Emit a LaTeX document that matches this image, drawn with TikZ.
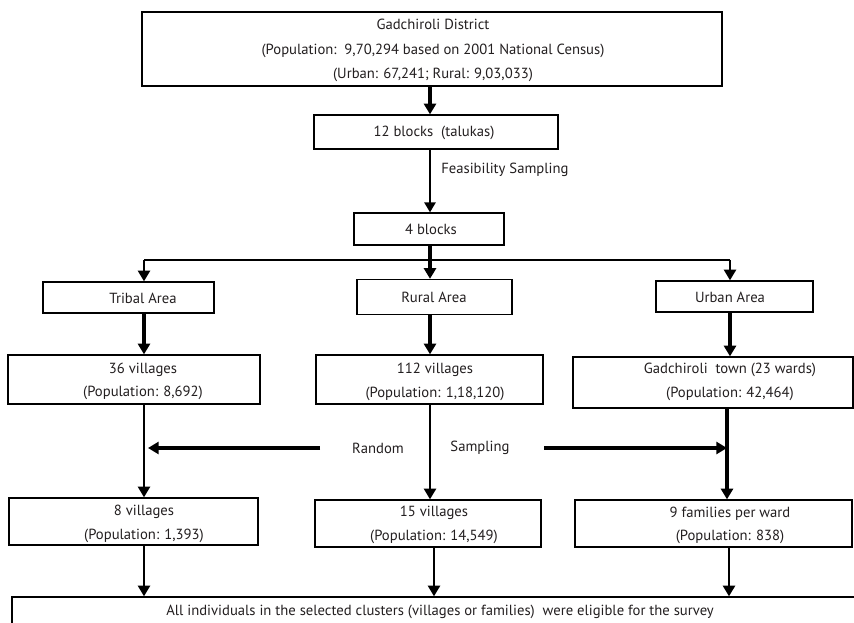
\documentclass[tikz,border=0pt]{standalone}
\usepackage{fontspec}
\setmainfont{PT Sans}
\usetikzlibrary{arrows.meta}
\definecolor{ink}{HTML}{231F20}
\tikzset{
  box/.style={draw=black, line width=1pt, rectangle, inner sep=0pt, fill=white},
  txt/.style={align=center, inner sep=0pt, text=ink, font=\fontsize{11}{17.5}\selectfont},
  arrthick/.style={line width=2.3pt, -{Triangle[width=9pt,length=8pt]}},
  arrmid/.style={line width=1.8pt, -{Triangle[width=9pt,length=8pt]}},
  arrthin/.style={line width=1.4pt, -{Triangle[width=8.5pt,length=7.5pt]}},
  thinline/.style={line width=1.2pt},
}
\begin{document}
\begin{tikzpicture}[x=0.75pt,y=-0.75pt]
\useasboundingbox (0,0) rectangle (854,623);
\clip (0,0) rectangle (854,623);
\fill[white] (0,0) rectangle (854,623);

% column coordinates
\coordinate (cL) at (144,0);
\coordinate (cM) at (430,0);
\coordinate (cR) at (730,0);

% boxes
\node[box, minimum width=580*0.75pt, minimum height=74*0.75pt] (top) at (432,49) {};
\node[txt, font=\fontsize{11}{18.4}\selectfont] (toptxt) at (433,50.5) {Gadchiroli District\\(Population:\ \ 9,70,294 based on 2001 National Census)\\(Urban: 67,241; Rural: 9,03,033)};

\node[box, minimum width=244*0.75pt, minimum height=34*0.75pt] (b12) at (436,132) {};
\node[txt] (b12txt) at (434,133) {12 blocks\ \ (talukas)};

\node[txt, anchor=west] (feas) at (441,170) {Feasibility Sampling};

\node[box, minimum width=150*0.75pt, minimum height=32*0.75pt] (b4) at (429,229) {};
\node[txt] (b4txt) at (431,229) {4 blocks};

\node[box, minimum width=171*0.75pt, minimum height=31*0.75pt] (tribal) at (128.5,297.5) {};
\node[txt] (tribaltxt) at (143,298) {Tribal Area};

\node[box, minimum width=155*0.75pt, minimum height=35*0.75pt] (rural) at (434.5,297) {};
\node[txt] (ruraltxt) at (434,297) {Rural Area};

\node[box, minimum width=157*0.75pt, minimum height=31*0.75pt] (urban) at (734.5,296.5) {};
\node[txt] (urbantxt) at (730,297) {Urban Area};

\node[box, minimum width=252*0.75pt, minimum height=49*0.75pt] (v36) at (134,379.5) {};
\node[txt] (v36txt) at (143,381.5) {36 villages\\(Population: 8,692)};

\node[box, minimum width=227*0.75pt, minimum height=49*0.75pt] (v112) at (429.5,379.5) {};
\node[txt] (v112txt) at (435,382) {112 villages\\(Population: 1,18,120)};

\node[box, minimum width=280*0.75pt, minimum height=51*0.75pt] (town) at (713,382.5) {};
\node[txt] (towntxt) at (730,382) {Gadchiroli\ \ town (23 wards)\\(Population: 42,464)};

\node[box, minimum width=249*0.75pt, minimum height=47*0.75pt] (v8) at (133.5,521.5) {};
\node[txt] (v8txt) at (144,524) {8 villages\\(Population: 1,393)};

\node[box, minimum width=226*0.75pt, minimum height=47*0.75pt] (v15) at (428,523.5) {};
\node[txt] (v15txt) at (434,525) {15 villages\\(Population: 14,549)};

\node[box, minimum width=277*0.75pt, minimum height=47*0.75pt] (fam) at (713.5,523.5) {};
\node[txt] (famtxt) at (730,525.5) {9 families per ward\\(Population: 838)};

\node[box, minimum width=858*0.75pt, minimum height=60*0.75pt] (all) at (441,627) {};
\node[txt] (alltxt) at (440,612) {All individuals in the selected clusters (villages or families)\ \ were eligible for the survey};

\node[txt] (random) at (378,448) {Random};
\node[txt] (sampling) at (480,448) {Sampling};
\coordinate (rndstart) at (320,448);
\coordinate (rndend) at (148,448);
\coordinate (smpstart) at (544,448);
\coordinate (smpend) at (727,448);
\coordinate (split) at (430,260);

% connectors
\draw[arrthick] (top.south -| cM) -- (b12.north -| cM);
\draw[arrthin] (b12.south -| cM) -- (b4.north -| cM);
\draw[arrthick] (b4.south -| cM) -- (rural.north -| cM);
\draw[thinline] (split -| cL) -- (split -| cR);
\draw[arrmid] (split -| cL) -- (tribal.north -| cL);
\draw[arrmid] (split -| cR) -- (urban.north -| cR);

\draw[arrthick] (tribal.south -| cL) -- (v36.north -| cL);
\draw[arrthick] (rural.south -| cM) -- (v112.north -| cM);
\draw[arrthick] (urban.south -| cR) -- (town.north -| cR);

\draw[arrmid] (v36.south -| cL) -- (v8.north -| cL);
\draw[arrmid] (v112.south -| cM) -- (v15.north -| cM);
\draw[arrthick] ([xshift=-2.25pt]town.south -| cR) -- ([xshift=-2.25pt]fam.north -| cR);

\draw[arrthick] (rndstart) -- (rndend);
\draw[arrthick] (smpstart) -- (smpend);

\draw[arrmid] (v8.south -| cL) -- (all.north -| cL);
\draw[arrmid] ([xshift=3pt]v15.south -| cM) -- ([xshift=3pt]all.north -| cM);
\draw[arrmid] ([xshift=-0.75pt]fam.south -| cR) -- ([xshift=-0.75pt]all.north -| cR);
\end{tikzpicture}
\end{document}
